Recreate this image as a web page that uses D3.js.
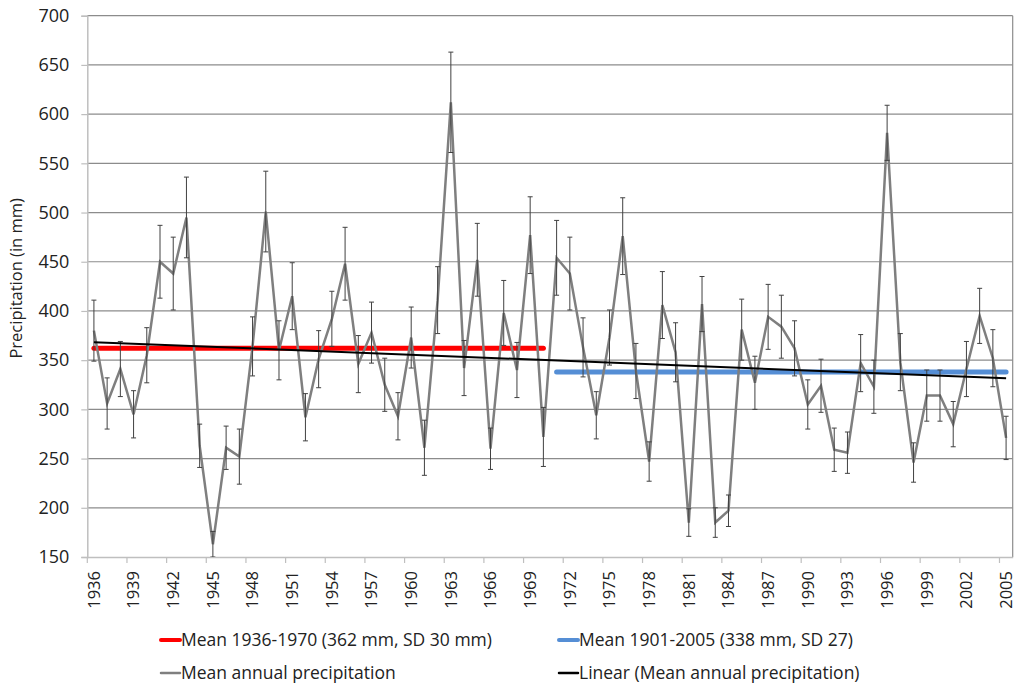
<!DOCTYPE html>
<html>
<head>
<meta charset="utf-8">
<script src="https://cdn.jsdelivr.net/npm/d3@7"></script>
<style>
  html, body { margin: 0; padding: 0; background: #fff; }
  svg { display: block; font-family: "Open Sans", "Noto Sans", sans-serif; }
</style>
</head>
<body>
<svg id="chart" width="1024" height="685"></svg>
<script>
const years = d3.range(1936, 2006);
const precip = [380, 306, 341, 295, 355, 450, 438, 495, 263, 163,
                261, 252, 364, 501, 360, 415, 292, 351, 392, 448,
                346, 378, 325, 293, 373, 261, 411, 612, 342, 452,
                260, 398, 340, 477, 272, 454, 438, 363, 294, 373,
                476, 339, 247, 406, 358, 185, 407, 185, 197, 381,
                327, 394, 384, 362, 305, 324, 259, 256, 347, 323,
                581, 348, 246, 314, 314, 285, 341, 395, 352, 271];
const errs = [31, 26, 28, 24, 28, 37, 37, 41, 22, 13,
              22, 28, 30, 41, 30, 34, 24, 29, 28, 37,
              29, 31, 27, 24, 31, 28, 34, 51, 28, 37,
              21, 33, 28, 39, 30, 38, 37, 30, 24, 28,
              39, 28, 20, 34, 30, 14, 28, 15, 16, 31,
              27, 33, 32, 28, 25, 27, 22, 21, 29, 27,
              28, 29, 20, 26, 26, 23, 28, 28, 29, 22];
const yTicks = [150, 200, 250, 300, 350, 400, 450, 500, 550, 600, 650, 700];
const xLabelYears = years.filter((y, i) => i % 3 === 0);
const mean1 = {label: "Mean 1936-1970 (362 mm, SD 30 mm)", value: 362, from: 1936, to: 1970};
const mean2 = {label: "Mean 1901-2005 (338 mm, SD 27)", value: 338, from: 1971, to: 2005};
const seriesLabel = "Mean annual precipitation";
const trendLabel = "Linear (Mean annual precipitation)";
const yTitle = "Precipitation (in mm)";

const svg = d3.select("#chart");
const L = 87.3, R = 1012.7, T = 15.7, B = 557;

const x = d3.scaleBand().domain(years).range([L, R]).padding(0);
const y = d3.scaleLinear().domain([150, 700]).range([B, T]);
const cx = yr => x(yr) + x.bandwidth() / 2;

// gridlines
svg.append("g").selectAll("line").data(yTicks.filter(v => v > 150)).join("line")
  .attr("x1", L).attr("x2", R).attr("y1", d => y(d)).attr("y2", d => y(d))
  .attr("stroke", "#8c8c8c").attr("stroke-width", 1.2);
// right border
svg.append("line").attr("x1", R).attr("x2", R).attr("y1", T).attr("y2", B)
  .attr("stroke", "#8c8c8c").attr("stroke-width", 1.2);

// y axis
const yAxis = d3.axisLeft(y).tickValues(yTicks).tickSize(6).tickPadding(12);
const gy = svg.append("g").attr("transform", `translate(${L},0)`).call(yAxis);
gy.select(".domain").attr("stroke", "#bfbfbf").attr("stroke-width", 1.5);
gy.selectAll(".tick line").attr("stroke", "#bfbfbf").attr("stroke-width", 1.2);
gy.selectAll(".tick text").attr("font-size", 18).attr("fill", "#222")
  .attr("font-family", "'Open Sans', sans-serif");

// x axis
const xAxis = d3.axisBottom(x).tickValues(xLabelYears).tickSize(0).tickPadding(0);
const gx = svg.append("g").attr("transform", `translate(0,${B})`).call(xAxis);
gx.select(".domain").attr("stroke", "#bfbfbf").attr("stroke-width", 1.5);
gx.selectAll(".tick text")
  .attr("font-size", 16.5).attr("fill", "#222")
  .attr("font-family", "'Open Sans', sans-serif")
  .attr("text-anchor", "end")
  .attr("transform", "translate(0,14) rotate(-90)")
  .attr("dy", "0.35em").attr("y", 0).attr("x", 0);
// tick marks at category boundaries
svg.append("g").selectAll("line").data(xLabelYears).join("line")
  .attr("x1", d => x(d)).attr("x2", d => x(d)).attr("y1", B).attr("y2", B + 6)
  .attr("stroke", "#bfbfbf").attr("stroke-width", 1.2);

// y title
svg.append("text").attr("transform", `translate(22,${(T + B) / 2 - 8}) rotate(-90)`)
  .attr("text-anchor", "middle").attr("font-size", 16.5).attr("fill", "#222")
  .text(yTitle);

// mean lines
const meanLine = (m, color) => svg.append("line")
  .attr("x1", cx(m.from)).attr("x2", cx(m.to))
  .attr("y1", y(m.value)).attr("y2", y(m.value))
  .attr("stroke", color).attr("stroke-width", 5).attr("stroke-linecap", "round");
meanLine(mean1, "#ff0000");
meanLine(mean2, "#558ed5");

// data line
const data = years.map((yr, i) => ({yr, v: precip[i], e: errs[i]}));
svg.append("path").datum(data)
  .attr("d", d3.line().x(d => cx(d.yr)).y(d => y(d.v)))
  .attr("fill", "none").attr("stroke", "#7f7f7f").attr("stroke-width", 2.5)
  .attr("stroke-linejoin", "miter");

// error bars (clipped to plot)
svg.append("clipPath").attr("id", "clip").append("rect")
  .attr("x", L).attr("y", T - 10).attr("width", R - L).attr("height", B - T + 10);
const eb = svg.append("g").attr("clip-path", "url(#clip)")
  .attr("stroke", "#404040").attr("stroke-width", 1);
eb.selectAll("line.v").data(data).join("line").attr("class", "v")
  .attr("x1", d => cx(d.yr)).attr("x2", d => cx(d.yr))
  .attr("y1", d => y(d.v + d.e)).attr("y2", d => y(d.v - d.e));
eb.selectAll("line.t").data(data).join("line").attr("class", "t")
  .attr("x1", d => cx(d.yr) - 2.5).attr("x2", d => cx(d.yr) + 2.5)
  .attr("y1", d => y(d.v + d.e)).attr("y2", d => y(d.v + d.e));
eb.selectAll("line.b").data(data).join("line").attr("class", "b")
  .attr("x1", d => cx(d.yr) - 2.5).attr("x2", d => cx(d.yr) + 2.5)
  .attr("y1", d => y(d.v - d.e)).attr("y2", d => y(d.v - d.e));

// linear trend (least squares)
const n = data.length;
const mx = d3.mean(data, (d, i) => i), my = d3.mean(data, d => d.v);
const slope = d3.sum(data, (d, i) => (i - mx) * (d.v - my)) / d3.sum(data, (d, i) => (i - mx) ** 2);
const icpt = my - slope * mx;
svg.append("line")
  .attr("x1", cx(years[0])).attr("x2", cx(years[n - 1]))
  .attr("y1", y(icpt)).attr("y2", y(icpt + slope * (n - 1)))
  .attr("stroke", "#000").attr("stroke-width", 2);

// legend
const legend = [
  {label: mean1.label, color: "#ff0000", w: 4, x: 160, y: 640},
  {label: mean2.label, color: "#558ed5", w: 4, x: 558, y: 640},
  {label: seriesLabel, color: "#7f7f7f", w: 2.5, x: 160, y: 673},
  {label: trendLabel, color: "#000", w: 2.5, x: 558, y: 673}
];
const lg = svg.append("g").selectAll("g").data(legend).join("g")
  .attr("transform", d => `translate(${d.x},${d.y})`);
lg.append("line").attr("x1", 1).attr("x2", 20).attr("y1", 0).attr("y2", 0)
  .attr("stroke", d => d.color).attr("stroke-width", d => d.w).attr("stroke-linecap", "round");
lg.append("text").attr("x", 21).attr("dy", "0.35em").attr("font-size", 17.5).attr("fill", "#222")
  .text(d => d.label);
</script>
</body>
</html>
